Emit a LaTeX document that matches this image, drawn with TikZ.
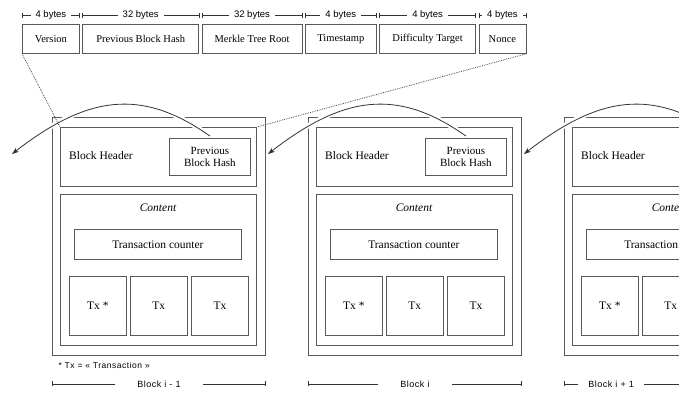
\documentclass[tikz,border=0pt]{standalone}
\usepackage{fontspec}
\setmainfont{Liberation Serif}
\setsansfont{Liberation Sans}
\newfontfamily\notefont{Liberation Sans}[LetterSpace=6.0]
\usetikzlibrary{arrows.meta,positioning}

\begin{document}
\begin{tikzpicture}[x=1pt, y=-1pt, >=Stealth]
        % Stijlen
        \tikzstyle{box} = [rectangle, draw=black!65, line width=0.8pt, inner sep=0pt, text centered, font=\fontsize{11.5}{13}\selectfont]
        \tikzstyle{field} = [box, minimum height=29pt, font=\fontsize{10.5}{12}\selectfont]
        \tikzstyle{dim} = [draw=black!80, line width=0.6pt, {Bar[width=5pt]}-{Bar[width=5pt]}]
        \tikzstyle{dimlabel} = [fill=white, inner xsep=5pt, font=\sffamily\fontsize{9.5}{10}\selectfont]
        \tikzstyle{blocklabel} = [fill=white, inner xsep=22pt, font=\notefont\fontsize{9}{10}\selectfont]
        \tikzstyle{link} = [draw=black!80, line width=0.8pt, -{Stealth[length=7pt, width=5pt]}]
        \tikzstyle{halo} = [draw=white, line width=5pt, shorten >=9pt, shorten <=2pt]
        \tikzstyle{zoomline} = [draw=black!70, densely dotted, line width=0.8pt]

        \useasboundingbox (0,0) rectangle (679,392);
        \clip (0,0) rectangle (679,392);

        % Header velden
        \node (ver) [field, anchor=north west, minimum width=57pt] at (22,24) {Version};
        \node (prev) [field, right=2.5pt of ver, minimum width=116pt] {Previous Block Hash};
        \node (merk) [field, right=2.5pt of prev, minimum width=100pt] {Merkle Tree Root};
        \node (time) [field, right=2.5pt of merk, minimum width=71pt] {Timestamp};
        \node (diff) [field, right=2.5pt of time, minimum width=96pt] {Difficulty Target};
        \node (nonce) [field, right=2.5pt of diff, minimum width=47pt] {Nonce};

        % Groottes
        \foreach \f/\s in {ver/4, prev/32, merk/32, time/4, diff/4, nonce/4}
            \draw [dim] ([yshift=9pt]\f.north west) -- node[dimlabel] {\s{} bytes} ([yshift=9pt]\f.north east);

        % Blokken
        \foreach \b/\dx in {a/0, b/256, c/512} {
            \begin{scope}[xshift=\dx]
                \node (out\b) [box, anchor=north west, minimum width=213pt, minimum height=238pt] at (52,117) {};
                \node (hdr\b) [box, anchor=north west, minimum width=196pt, minimum height=59pt] at (60,127) {};
                \node (hdrtxt\b) [anchor=west, inner sep=0pt, font=\fontsize{11.5}{13}\selectfont] at (69,156) {Block Header};
                \node (pbh\b) [box, anchor=north west, minimum width=81pt, minimum height=37pt, align=center, font=\fontsize{11}{11.5}\selectfont] at (169,138) {Previous\\Block Hash};
                \node (cnt\b) [box, anchor=north west, minimum width=196pt, minimum height=151pt] at (60,194) {};
                \node (cnttxt\b) [font=\fontsize{11.5}{13}\selectfont\itshape] at (158,208) {Content};
                \node (ctr\b) [box, anchor=north west, minimum width=167pt, minimum height=30pt] at (74,229) {Transaction counter};
                \node (txa\b) [box, anchor=north west, minimum width=57pt, minimum height=59pt] at (69,276) {Tx *};
                \node (txb\b) [box, right=3pt of txa\b, minimum width=57pt, minimum height=59pt] {Tx};
                \node (txc\b) [box, right=3.5pt of txb\b, minimum width=57pt, minimum height=59pt] {Tx};
                \coordinate (tip\b) at (12,154);
            \end{scope}
        }

        % Pijlen naar het vorige blok
        \foreach \b in {a, b, c}
            \draw [halo] ([yshift=2pt]pbh\b.north) .. controls +(-68,-48) and +(76,-59) .. (tip\b);
        \draw [zoomline] (ver.south west) -- (hdra.north west);
        \draw [zoomline] (nonce.south east) -- (hdra.north east);
        \foreach \b in {a, b, c}
            \draw [link] ([yshift=2pt]pbh\b.north) .. controls +(-68,-48) and +(76,-59) .. (tip\b);

        % Voetnoot en bloknamen
        \node (note) [anchor=west, font=\notefont\fontsize{8.5}{9}\selectfont] at (55,365) {* Tx = « Transaction »};
        \draw [dim] ([yshift=-28pt]outa.south west) -- node[blocklabel] {Block i - 1} ([yshift=-28pt]outa.south east);
        \draw [dim] ([yshift=-28pt]outb.south west) -- node[blocklabel] {Block i} ([yshift=-28pt]outb.south east);
        \draw [dim] ([yshift=-28pt]outc.south west) -- node[blocklabel, pos=0.22, inner xsep=10pt] {Block i + 1} ([yshift=-28pt]outc.south east);

    \end{tikzpicture}
\end{document}
